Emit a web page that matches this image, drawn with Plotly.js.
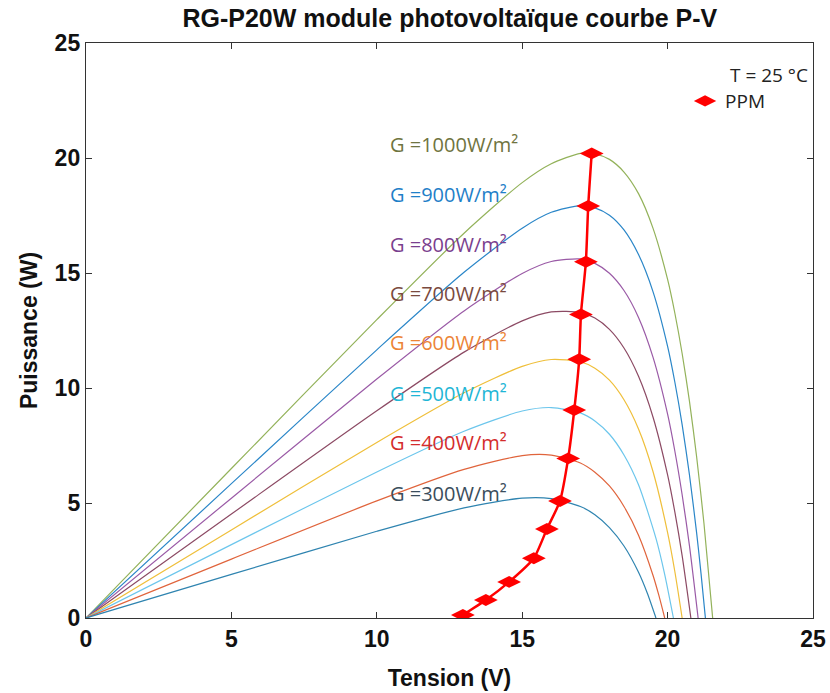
<!DOCTYPE html>
<html>
<head>
<meta charset="utf-8">
<script src="https://cdn.plot.ly/plotly-3.0.1.min.js"></script>
<style>html,body{margin:0;padding:0;background:#fff;}#chart{width:830px;height:693px;}</style>
</head>
<body>
<div id="chart"></div>
<script>
// Irradiance levels (W/m²)
const irradiance = [1000, 900, 800, 700, 600, 500, 400, 300];
const curveLabels = ["G =1000W/m²", "G =900W/m²", "G =800W/m²", "G =700W/m²", "G =600W/m²", "G =500W/m²", "G =400W/m²", "G =300W/m²"];

// P-V curves (voltage V, power W)
const v1000 = [0, 5, 10, 13, 15, 16, 17, 17.5, 18, 18.5, 19, 19.5, 20, 20.25, 20.5, 20.75, 21, 21.25, 21.55];
const p1000 = [0, 6.5, 12.97, 16.73, 18.93, 19.75, 20.2, 20.18, 19.94, 19.39, 18.45, 16.94, 14.72, 13.25, 11.5, 9.44, 6.99, 4.12, 0];
const v900 = [0, 5, 10, 13, 15, 16, 17, 17.5, 18, 18.5, 19, 19.5, 20, 20.25, 20.5, 20.75, 21, 21.15, 21.3];
const p900 = [0, 5.84, 11.66, 15.03, 16.95, 17.64, 17.93, 17.83, 17.51, 16.87, 15.8, 14.18, 11.81, 10.25, 8.41, 6.24, 3.68, 1.93, 0];
const v800 = [0, 5, 10, 13, 15, 16, 17, 17.5, 18, 18.5, 19, 19.5, 20, 20.25, 20.5, 20.75, 21.05];
const p800 = [0, 5.21, 10.39, 13.35, 14.98, 15.5, 15.61, 15.42, 14.99, 14.24, 13.07, 11.33, 8.86, 7.25, 5.36, 3.16, 0];
const v700 = [0, 5, 10, 13, 15, 16, 17, 17.5, 18, 18.5, 19, 19.5, 20, 20.25, 20.5, 20.8];
const p700 = [0, 4.52, 9.01, 11.56, 12.92, 13.31, 13.29, 13.04, 12.55, 11.74, 10.51, 8.73, 6.22, 4.6, 2.71, 0];
const v600 = [0, 5, 10, 13, 15, 16, 17, 17.5, 18, 18.5, 19, 19.5, 20, 20.25, 20.5];
const p600 = [0, 3.83, 7.63, 9.79, 10.94, 11.24, 11.14, 10.86, 10.34, 9.49, 8.22, 6.36, 3.71, 2.01, 0];
const v500 = [0, 5, 10, 13, 15, 16, 17, 17.5, 18, 18.5, 19, 19.6, 19.9, 20.2];
const p500 = [0, 3.19, 6.35, 8.12, 9.0, 9.15, 8.92, 8.57, 7.99, 7.09, 5.79, 3.46, 1.9, 0];
const v400 = [0, 5, 10, 13, 15, 16, 17, 17.5, 18, 18.5, 19, 19.5, 19.7, 19.9];
const p400 = [0, 2.56, 5.09, 6.46, 7.06, 7.08, 6.74, 6.34, 5.74, 4.85, 3.6, 1.85, 0.98, 0];
const v300 = [0, 5, 10, 13, 15, 16, 17, 17.5, 18, 18.5, 19, 19.3, 19.6];
const p300 = [0, 1.895, 3.77, 4.79, 5.21, 5.19, 4.85, 4.49, 3.93, 3.13, 1.99, 1.09, 0];

// Maximum power points (PPM)
const ppmV = [17.39, 17.27, 17.19, 17.02, 16.96, 16.79, 16.58, 16.30, 15.85, 15.40, 14.55, 13.75, 12.96];
const ppmP = [20.2, 17.91, 15.49, 13.2, 11.25, 9.04, 6.94, 5.09, 3.87, 2.6, 1.57, 0.78, 0.13];

const xTicks = [0, 5, 10, 15, 20, 25];
const yTicks = [0, 5, 10, 15, 20, 25];

const curveV = [v1000, v900, v800, v700, v600, v500, v400, v300];
const curveP = [p1000, p900, p800, p700, p600, p500, p400, p300];

// styles
const lineColors = ['#93b25a', '#2a86c8', '#9a5aa6', '#8c4a64', '#efbf3a', '#6cc6ec', '#e0643c', '#2f84b0'];
const labelColors = ['#6f7440', '#1f80c8', '#7a3f8e', '#7a4a3e', '#ec8436', '#1fb6d6', '#d42c2c', '#3a4d5c'];
const labelY = [20.6, 18.4, 16.26, 14.13, 11.96, 9.78, 7.61, 5.43];

const traces = [];
for (let i = 0; i < curveV.length; i++) {
  traces.push({
    x: curveV[i], y: curveP[i], type: 'scatter', mode: 'lines',
    line: {color: lineColors[i], width: 1.2, shape: 'spline', smoothing: 0.7},
    name: curveLabels[i], showlegend: false, hoverinfo: 'skip'
  });
}
traces.push({
  x: ppmV, y: ppmP, type: 'scatter', mode: 'lines+markers',
  line: {color: '#ff0000', width: 2.5, shape: 'spline', smoothing: 0.6},
  marker: {symbol: 'diamond-wide', size: 17, color: '#ff0000'},
  name: 'PPM', showlegend: false
});
traces.push({
  x: [null], y: [null], type: 'scatter', mode: 'markers',
  marker: {symbol: 'diamond-wide', size: 17, color: '#ff0000'},
  name: 'PPM', showlegend: true
});

const annotations = curveLabels.map((t, i) => ({
  x: 10.39, y: labelY[i], xref: 'x', yref: 'y', text: t, showarrow: false,
  xanchor: 'left', yanchor: 'middle',
  font: {family: 'Open Sans, sans-serif', size: 20, color: labelColors[i]}
}));
annotations.push({
  x: 0.883, y: 0.944, xref: 'paper', yref: 'paper', text: 'T = 25 °C', showarrow: false,
  xanchor: 'left', yanchor: 'middle',
  font: {family: 'Open Sans, sans-serif', size: 19, color: '#222'}
});

const tickFont = {family: 'Liberation Sans, Arial, sans-serif', size: 23, color: '#111', weight: 'bold'};

const layout = {
  width: 830, height: 693,
  margin: {l: 86, r: 17, t: 43, b: 75},
  paper_bgcolor: '#fff', plot_bgcolor: '#fff',
  title: {text: 'RG-P20W module photovoltaïque courbe P-V', x: 0.542, xanchor: 'center', y: 0.974, yanchor: 'middle',
    font: {family: 'Liberation Sans, Arial, sans-serif', size: 25, color: '#111', weight: 'bold'}},
  xaxis: {
    range: [0, 25], tickvals: xTicks, ticktext: xTicks.map(String),
    showgrid: false, zeroline: false, showline: true, linecolor: '#333', linewidth: 1.2, mirror: 'ticks',
    ticks: 'inside', ticklen: 6, tickcolor: '#333', tickfont: tickFont,
    title: {text: 'Tension (V)', font: tickFont, standoff: 19}
  },
  yaxis: {
    range: [0, 25], tickvals: yTicks, ticktext: yTicks.map(String),
    showgrid: false, zeroline: false, showline: true, linecolor: '#333', linewidth: 1.2, mirror: 'ticks',
    ticks: 'inside', ticklen: 6, tickcolor: '#333', tickfont: tickFont,
    title: {text: 'Puissance (W)', font: tickFont, standoff: 10}
  },
  legend: {x: 0.824, y: 0.932, xanchor: 'left', yanchor: 'top', bgcolor: 'rgba(0,0,0,0)',
    font: {family: 'Open Sans, sans-serif', size: 19, color: '#222'}},
  annotations: annotations,
  showlegend: true
};

Plotly.newPlot('chart', traces, layout, {displayModeBar: false, staticPlot: true});
</script>
</body>
</html>
